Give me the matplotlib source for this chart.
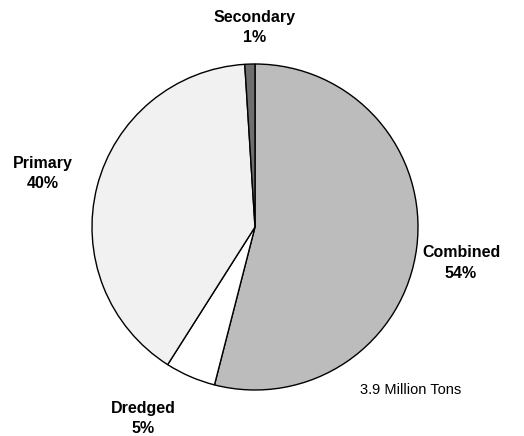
import matplotlib.pyplot as plt

# tonnage shares by type
categories = ["Combined", "Dredged", "Primary", "Secondary"]
shares = [54, 5, 40, 1]
colors = ["#bcbcbc", "#ffffff", "#f1f1f1", "#6e6e6e"]
total_note = "3.9 Million Tons"

plt.rcParams["font.family"] = ["Liberation Sans", "DejaVu Sans"]

fig = plt.figure(figsize=(5.24, 4.36), dpi=100)
# axes placed so that the pie is a circle of radius 163 px centred at (255, 227)
W, H = 524, 436
cx, cy, r = 255, 227, 163
ax = fig.add_axes([(cx - r) / W, (H - cy - r) / H, 2 * r / W, 2 * r / H])

wedges, _ = ax.pie(shares, colors=colors, startangle=90, counterclock=False,
                   wedgeprops=dict(edgecolor="black", linewidth=1.0))
ax.set_xlim(-1, 1)
ax.set_ylim(-1, 1)
ax.set_aspect("equal")
ax.axis("off")

# label positions in pie units
label_pos = {
    "Combined": (1.264, -0.22),
    "Dredged": (-0.687, -1.175),
    "Primary": (-1.30, 0.33),
    "Secondary": (0.0, 1.225),
}
for name, val in zip(categories, shares):
    x, y = label_pos[name]
    ax.text(x, y, f"{name}\n{val}%", ha="center", va="center",
            fontsize=11.5, fontweight="bold", linespacing=1.45, clip_on=False)

ax.text(0.957, -1.0, total_note, ha="center", va="center", fontsize=10.5,
        clip_on=False)

fig.savefig("out.png", dpi=100)
